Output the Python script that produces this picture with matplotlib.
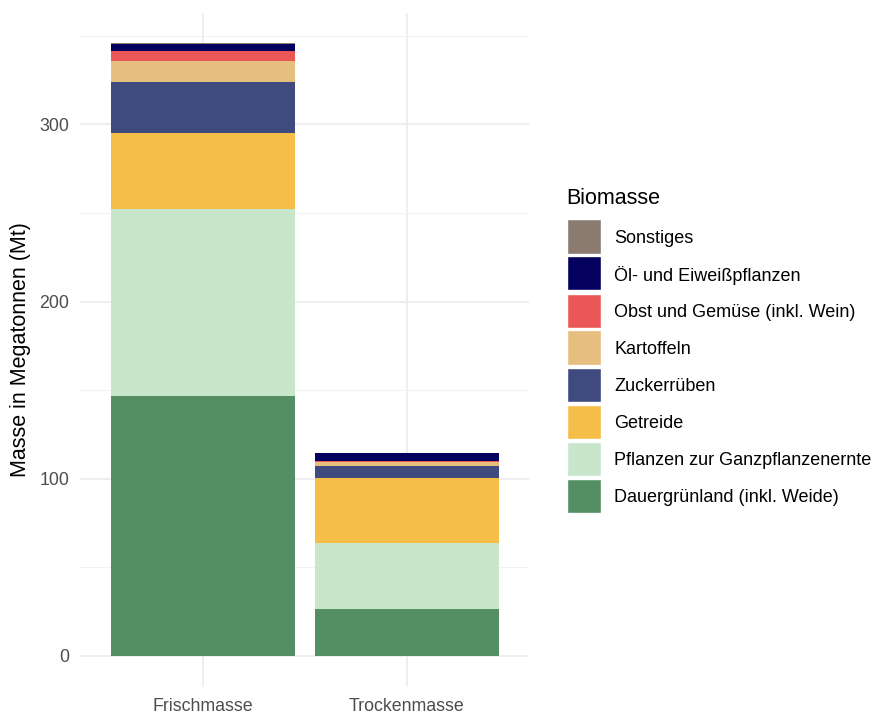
import numpy as np
import matplotlib.pyplot as plt
from matplotlib.patches import Rectangle

plt.rcParams['font.family'] = ['Liberation Sans', 'DejaVu Sans']

# Daten (Megatonnen)
kategorien = ['Frischmasse', 'Trockenmasse']
biomasse = ['Dauergrünland (inkl. Weide)', 'Pflanzen zur Ganzpflanzenernte', 'Getreide',
            'Zuckerrüben', 'Kartoffeln', 'Obst und Gemüse (inkl. Wein)',
            'Öl- und Eiweißpflanzen', 'Sonstiges']
dauergruenland = [146.7, 26.3]
ganzpflanzen = [105.3, 37.4]
getreide = [43.0, 36.9]
zuckerrueben = [28.8, 6.5]
kartoffeln = [11.8, 2.6]
obst_gemuese = [5.6, 0.5]
oel_eiweiss = [4.3, 4.1]
sonstiges = [0.2, 0.2]

werte = [dauergruenland, ganzpflanzen, getreide, zuckerrueben,
         kartoffeln, obst_gemuese, oel_eiweiss, sonstiges]
farben = ['#548F63', '#C8E6CA', '#F5BE49', '#3F4A7E',
          '#E6BE7E', '#EB5757', '#03005E', '#8B7B70']

W, H = 882, 713
fig = plt.figure(figsize=(W / 100, H / 100), dpi=100)
ax = fig.add_axes([0.091, 0.037, 0.509, 0.945])

x = np.arange(1, len(kategorien) + 1)
unten = np.zeros(len(kategorien))
for w, f in zip(werte, farben):
    ax.bar(x, w, width=0.9, bottom=unten, color=f, edgecolor='none', zorder=3)
    unten += np.array(w)

# ggplot-artige Achsen
ax.set_xlim(0.4, 2.6)
ymax = unten.max()
ax.set_ylim(-0.05 * ymax, ymax * 1.05)
ax.set_xticks(x)
ax.set_xticklabels(kategorien)
ax.set_yticks([0, 100, 200, 300])
ax.set_yticks([50, 150, 250, 350], minor=True)
ax.grid(True, which='major', color='#EBEBEB', linewidth=1.2, zorder=0)
ax.grid(True, which='minor', axis='y', color='#F2F2F2', linewidth=0.7, zorder=0)
ax.tick_params(which='both', length=0, labelsize=12.8, colors='#4D4D4D', pad=8)
for s in ax.spines.values():
    s.set_visible(False)
ax.set_ylabel('Masse in Megatonnen (Mt)', fontsize=15.5, color='black', labelpad=6)

# Legende (von Hand, wie bei ggplot)
def fx(px):
    return px / W

def fy(py):
    return 1 - py / H

fig.text(fx(566), fy(204), 'Biomasse', fontsize=15.5, ha='left', va='baseline')
key_top, key_h, pitch = 219.5, 34, 37
for i, (lab, f) in enumerate(zip(biomasse[::-1], farben[::-1])):
    top = key_top + i * pitch
    fig.add_artist(Rectangle((fx(567), fy(top + key_h)), fx(34), key_h / H,
                             transform=fig.transFigure, facecolor=f,
                             edgecolor='white', linewidth=1))
    fig.text(fx(614), fy(top + key_h / 2), lab, fontsize=13,
             ha='left', va='center_baseline')

fig.savefig('out.png', dpi=100)
